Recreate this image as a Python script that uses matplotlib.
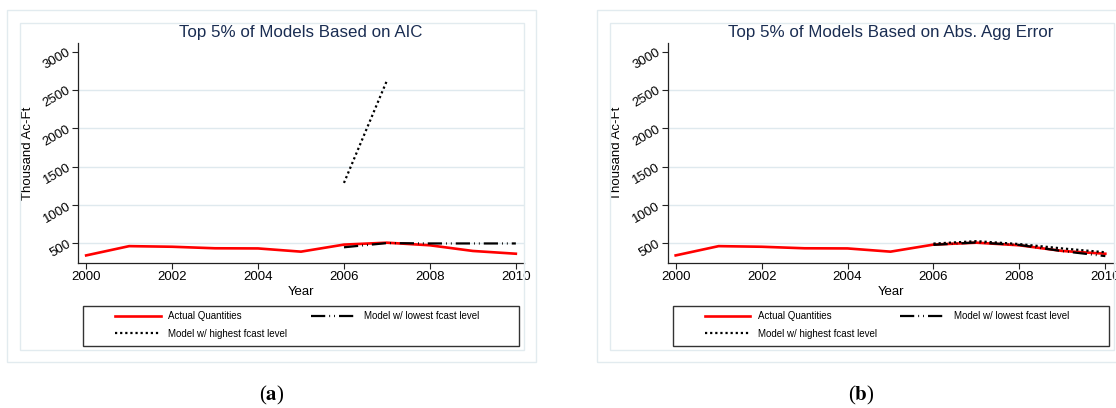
import matplotlib
matplotlib.use('Agg')
from matplotlib import pyplot as plt
from matplotlib.patches import Rectangle
from matplotlib.lines import Line2D

# values
years = [2000, 2001, 2002, 2003, 2004, 2005, 2006, 2007, 2008, 2009, 2010]
actual = [344, 465, 457, 437, 435, 393, 485, 510, 476, 402, 366]

fcast_years = [2006, 2007, 2008, 2009, 2010]
aic_lowest = [450, 505, 500, 500, 500]
aic_high_years = [2006, 2007]
aic_highest = [1290, 2625]
err_lowest = [482, 513, 480, 400, 335]
err_highest = [498, 530, 492, 435, 385]

titles = ['Top 5% of Models Based on AIC', 'Top 5% of Models Based on Abs. Agg Error']
tags = ['a', 'b']
y_ticks = [500, 1000, 1500, 2000, 2500, 3000]
x_ticks = [2000, 2002, 2004, 2006, 2008, 2010]
labels = ['Actual Quantities', 'Model w/ highest fcast level', 'Model w/ lowest fcast level']

W, H = 1116, 408
plt.rcParams['font.family'] = ['Liberation Sans', 'DejaVu Sans']

FRAME = '#e2ebef'
GRID = '#dfe9ee'
AXC = '#222222'
TITLE = '#1a2d52'
DASHDOT = (0, (6.4, 1.8, 0.4, 1.8, 0.4, 1.8))
DOTTED = (0, (1.0, 1.3))


def fx(x):
    return x / W


def fy(y):
    return 1 - y / H


def frame(fig, x0, y0, x1, y1, color, lw):
    fig.add_artist(Rectangle((fx(x0), fy(y1)), (x1 - x0) / W, (y1 - y0) / H,
                             transform=fig.transFigure, fill=False, ec=color, lw=lw))


fig = plt.figure(figsize=(W / 100, H / 100), dpi=100)

panels = [
    (aic_lowest, aic_high_years, aic_highest),
    (err_lowest, fcast_years, err_highest),
]

for i, (low, high_x, high) in enumerate(panels):
    dx = i * 589.5
    frame(fig, 7 + dx, 10, 536 + dx, 362, FRAME, 1.0)
    frame(fig, 20 + dx, 23, 524 + dx, 350, FRAME, 1.0)

    ax = fig.add_axes([fx(78 + dx), fy(263), 446 / W, 220 / H])
    ax.plot(years, actual, color='#ff0000', lw=1.9, zorder=3)
    ax.plot(fcast_years, low, color='black', lw=1.6, linestyle=DASHDOT, zorder=4)
    ax.plot(high_x, high, color='black', lw=1.6, linestyle=DOTTED, zorder=5)

    ax.set_xlim(1999.81, 2010.19)
    ax.set_ylim(245, 3115)
    ax.set_xticks(x_ticks)
    ax.set_yticks(y_ticks)
    ax.grid(axis='y', color=GRID, lw=1.0)
    ax.yaxis.get_gridlines()[-1].set_visible(False)
    ax.set_axisbelow(True)

    for s in ['top', 'right']:
        ax.spines[s].set_visible(False)
    for s in ['left', 'bottom']:
        ax.spines[s].set_color(AXC)
        ax.spines[s].set_linewidth(0.9)
    ax.tick_params(direction='out', length=4, width=0.8, color=AXC, labelsize=9.5, pad=2)
    for lab in ax.get_yticklabels():
        lab.set_rotation(30)
        lab.set_rotation_mode('anchor')
        lab.set_ha('right')
        lab.set_va('center')

    ax.set_xlabel('Year', fontsize=9.5)
    ax.xaxis.set_label_coords(0.5, -(291.7 - 263) / 220)
    ax.xaxis.label.set_va('center')
    ax.set_ylabel('Thousand Ac-Ft', fontsize=9.5)
    ax.yaxis.set_label_coords((28 - 78) / 446, (263 - 153.5) / 220)
    ax.yaxis.label.set_va('center')

    ax.text(0.5, 1 + 11 / 220, titles[i], transform=ax.transAxes, ha='center', va='center',
            fontsize=12.2, color=TITLE)

    # legend
    handles = [
        Line2D([], [], color='#ff0000', lw=1.9),
        Line2D([], [], color='black', lw=1.6, linestyle=DOTTED),
        Line2D([], [], color='black', lw=1.6, linestyle=DASHDOT),
    ]
    frame(fig, 83 + dx, 306, 519 + dx, 346, '#333333', 1.0)
    fig.legend(handles, labels, loc='upper left', bbox_to_anchor=(fx(115 + dx), fy(311)),
               ncol=2, frameon=False, fontsize=7, handlelength=4.7, handletextpad=0.8,
               columnspacing=2.4, labelspacing=0.8, borderpad=0, borderaxespad=0)

    fig.text(fx(271.5 + dx), fy(395), r'($\mathbf{' + tags[i] + '}$)', ha='center', va='center',
             fontsize=15, family='Liberation Serif', math_fontfamily='stix')

fig.savefig('out.png', dpi=100)
